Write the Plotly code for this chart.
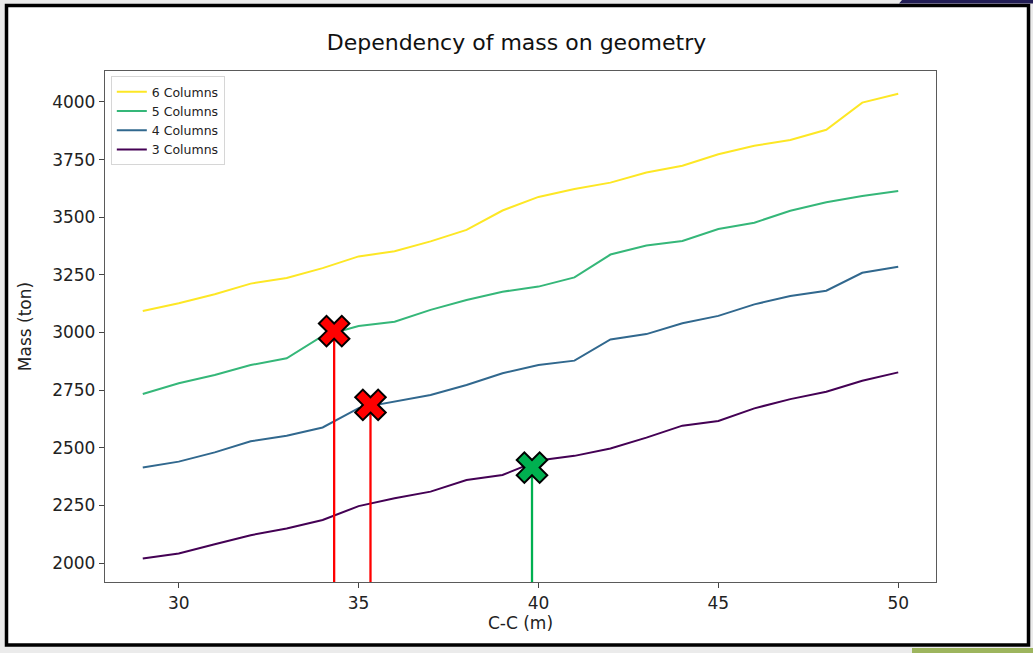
import plotly.graph_objects as go

# ---- data ----
cc = list(range(29, 51))  # C-C (m)
mass_6 = [3093, 3127, 3166, 3212, 3236, 3279, 3330, 3352, 3395, 3445, 3529, 3588,
          3622, 3650, 3694, 3723, 3773, 3810, 3835, 3879, 3997, 4035]
mass_5 = [2733, 2780, 2816, 2859, 2888, 2985, 3028, 3047, 3098, 3141, 3177, 3199,
          3239, 3338, 3377, 3397, 3449, 3476, 3528, 3565, 3592, 3614]
mass_4 = [2415, 2440, 2480, 2528, 2552, 2588, 2672, 2700, 2729, 2772, 2823, 2859,
          2878, 2970, 2993, 3040, 3072, 3122, 3158, 3181, 3259, 3285]
mass_3 = [2020, 2042, 2082, 2121, 2150, 2187, 2247, 2281, 2310, 2360, 2382, 2445,
          2465, 2497, 2544, 2596, 2616, 2671, 2711, 2743, 2791, 2827]

series_names = ["6 Columns", "5 Columns", "4 Columns", "3 Columns"]
series_values = [mass_6, mass_5, mass_4, mass_3]
series_colors = ["#fde725", "#35b779", "#31688e", "#440154"]

# highlighted designs
pick_x = [34.32, 35.33, 39.82]
pick_y = [3006, 2686, 2414]
pick_colors = ["#ff0000", "#ff0000", "#00b050"]

X_RANGE = [27.95, 51.05]
Y_RANGE = [1918, 4134]
x_ticks = [30, 35, 40, 45, 50]
y_ticks = [2000, 2250, 2500, 2750, 3000, 3250, 3500, 3750, 4000]

# ---- layout geometry (pixels) ----
W, H = 1033, 653
ML, MR, MT, MB = 105, 97, 71, 71
PW, PH = W - ML - MR, H - MT - MB


def px(x):
    return (x - ML) / PW


def py(y):
    return (H - MB - y) / PH


FONT = "DejaVu Sans"
fig = go.Figure()

for name, vals, col in zip(series_names, series_values, series_colors):
    fig.add_trace(go.Scatter(x=cc, y=vals, mode="lines", name=name,
                             line=dict(color=col, width=2)))

for xv, yv, col in zip(pick_x, pick_y, pick_colors):
    fig.add_trace(go.Scatter(x=[xv, xv], y=[Y_RANGE[0], yv], mode="lines",
                             line=dict(color=col, width=2.3), showlegend=False,
                             hoverinfo="skip"))
for xv, yv, col in zip(pick_x, pick_y, pick_colors):
    fig.add_trace(go.Scatter(x=[xv], y=[yv], mode="markers", showlegend=False,
                             marker=dict(symbol="x", size=27, color=col,
                                         line=dict(color="black", width=2))))

shapes = [
    # outer white card with black border
    dict(type="rect", xref="paper", yref="paper", layer="below",
         x0=px(6.5), x1=px(1028.5), y0=py(5.5), y1=py(645),
         fillcolor="white", line=dict(color="black", width=3.5)),
    # top-right navy band
    dict(type="path", xref="paper", yref="paper", layer="below",
         path=f"M {px(902)},{py(0)} L {px(1033)},{py(0)} L {px(1033)},{py(3.5)} L {px(899)},{py(3.5)} Z",
         fillcolor="#221d55", line=dict(width=0)),
    # bottom-right green band
    dict(type="rect", xref="paper", yref="paper", layer="below",
         x0=px(912), x1=px(1033), y0=py(653), y1=py(648),
         fillcolor="#9db55e", line=dict(width=0)),
]

fig.update_layout(
    width=W, height=H,
    margin=dict(l=ML, r=MR, t=MT, b=MB),
    paper_bgcolor="#ebebeb",
    plot_bgcolor="white",
    font=dict(family=FONT, color="#222222", size=17),
    title=dict(text="Dependency of mass on geometry", x=px(520.5), xanchor="center",
               y=1 - 42 / H, yanchor="middle", font=dict(size=22, family=FONT, color="#111111")),
    showlegend=True,
    legend=dict(x=0.007, y=0.99, xanchor="left", yanchor="top",
                bgcolor="rgba(255,255,255,0.9)", bordercolor="#d6d6d6", borderwidth=1,
                font=dict(size=12.5, family=FONT, color="#222222"),
                tracegroupgap=0, itemwidth=30),
    shapes=shapes,
    xaxis=dict(range=X_RANGE, tickvals=x_ticks, ticks="outside", ticklen=5,
               tickcolor="#444444", showgrid=False, zeroline=False,
               showline=True, mirror=True, linecolor="#5a5a5a", linewidth=1.3,
               tickfont=dict(size=17, family=FONT),
               title=dict(text="C-C (m)", standoff=5, font=dict(size=17, family=FONT))),
    yaxis=dict(range=Y_RANGE, tickvals=y_ticks, ticks="outside", ticklen=5,
               tickcolor="#444444", showgrid=False, zeroline=False,
               showline=True, mirror=True, linecolor="#5a5a5a", linewidth=1.3,
               tickfont=dict(size=17, family=FONT),
               title=dict(text="Mass (ton)", standoff=16, font=dict(size=17, family=FONT))),
)

fig.write_html("out.html")
